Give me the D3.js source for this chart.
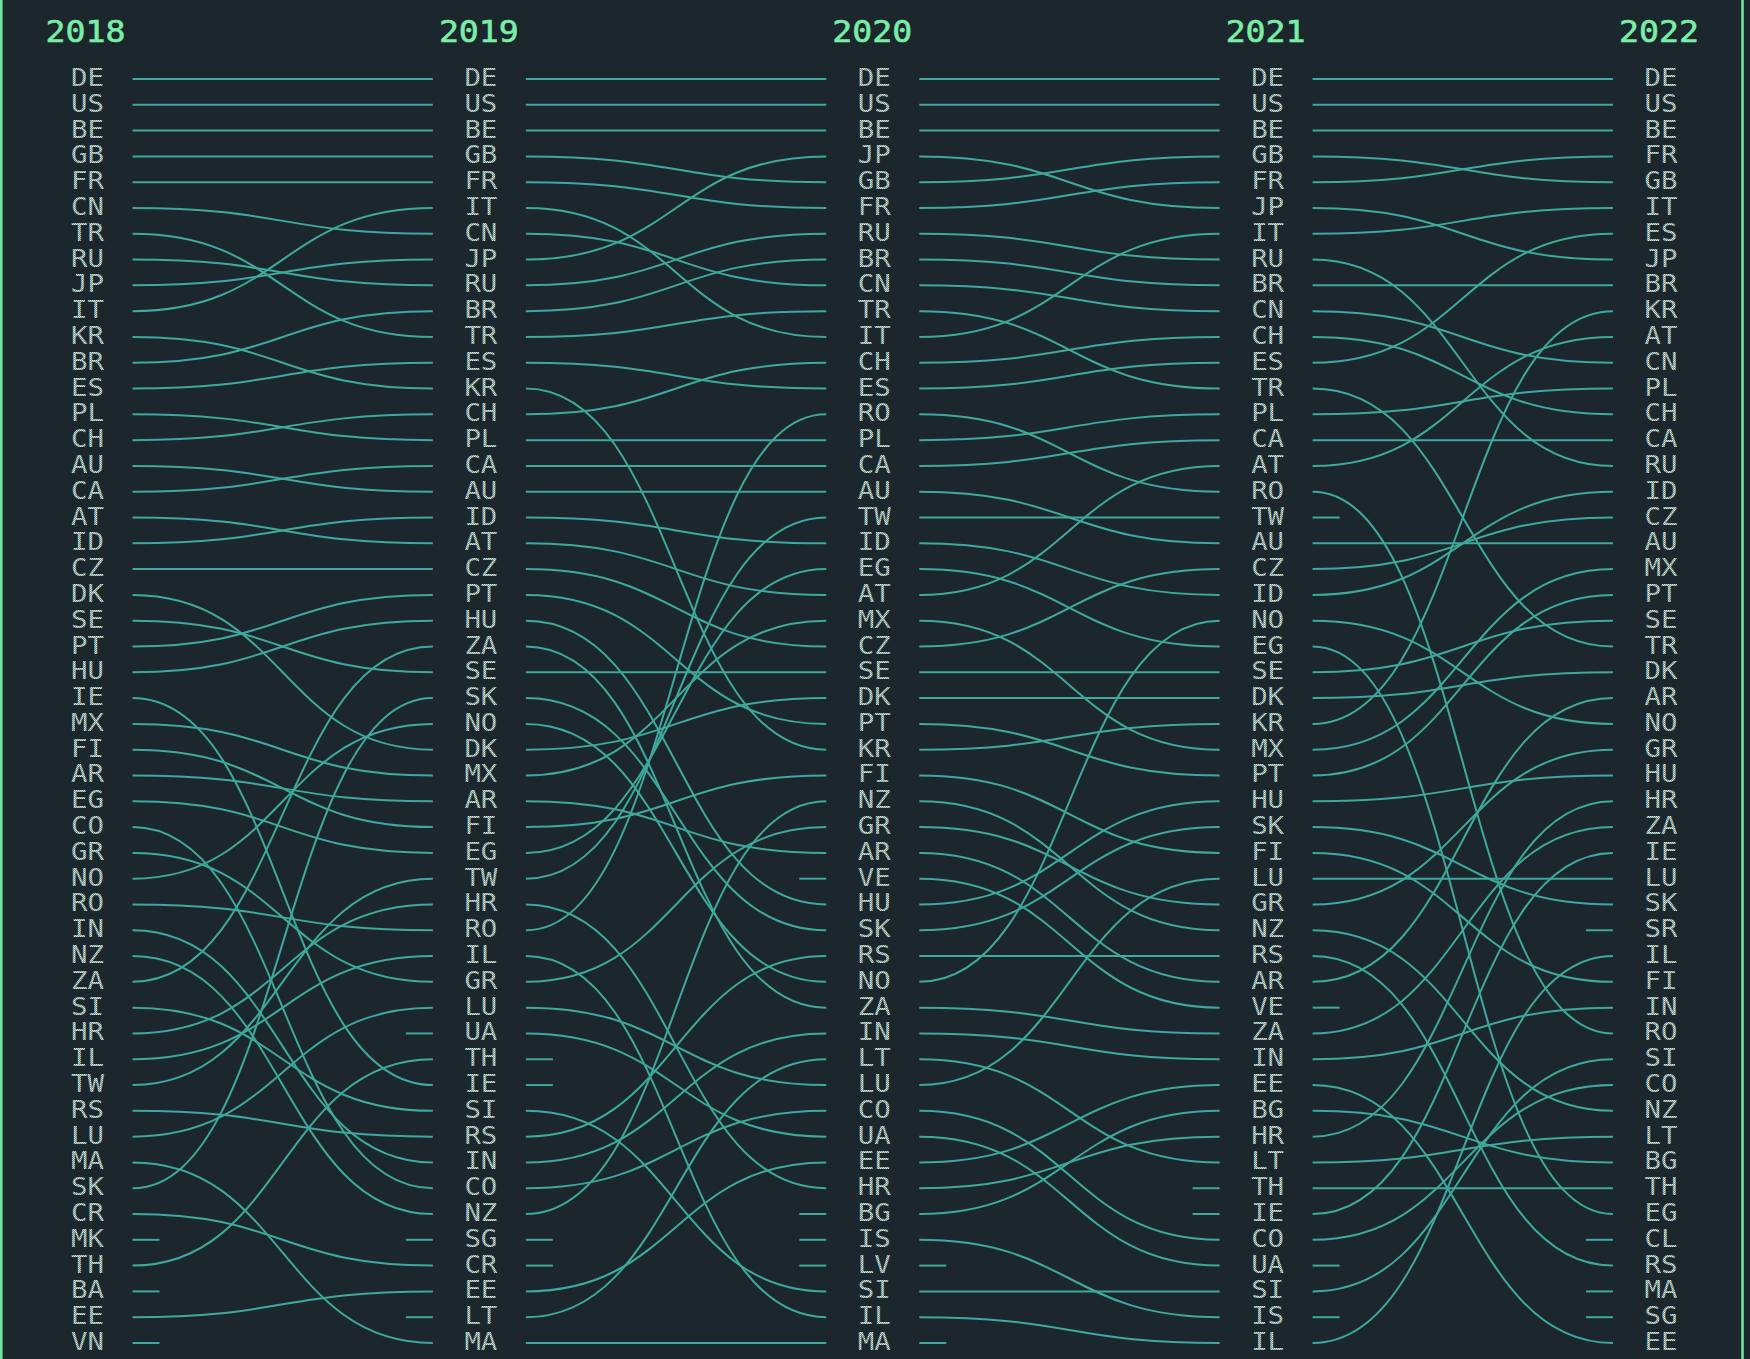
<!DOCTYPE html>
<html><head><meta charset="utf-8">
<script src="https://cdn.jsdelivr.net/npm/d3@7"></script>
<style>html,body{margin:0;padding:0;background:#1c272d;overflow:hidden}</style>
</head><body>
<svg id="chart" width="1750" height="1359"></svg>
<script>
const years = ["2018", "2019", "2020", "2021", "2022"];
const rank2018 = ["DE","US","BE","GB","FR","CN","TR","RU","JP","IT","KR","BR","ES","PL","CH","AU","CA","AT","ID","CZ","DK","SE","PT","HU","IE","MX","FI","AR","EG","CO","GR","NO","RO","IN","NZ","ZA","SI","HR","IL","TW","RS","LU","MA","SK","CR","MK","TH","BA","EE","VN"];
const rank2019 = ["DE","US","BE","GB","FR","IT","CN","JP","RU","BR","TR","ES","KR","CH","PL","CA","AU","ID","AT","CZ","PT","HU","ZA","SE","SK","NO","DK","MX","AR","FI","EG","TW","HR","RO","IL","GR","LU","UA","TH","IE","SI","RS","IN","CO","NZ","SG","CR","EE","LT","MA"];
const rank2020 = ["DE","US","BE","JP","GB","FR","RU","BR","CN","TR","IT","CH","ES","RO","PL","CA","AU","TW","ID","EG","AT","MX","CZ","SE","DK","PT","KR","FI","NZ","GR","AR","VE","HU","SK","RS","NO","ZA","IN","LT","LU","CO","UA","EE","HR","BG","IS","LV","SI","IL","MA"];
const rank2021 = ["DE","US","BE","GB","FR","JP","IT","RU","BR","CN","CH","ES","TR","PL","CA","AT","RO","TW","AU","CZ","ID","NO","EG","SE","DK","KR","MX","PT","HU","SK","FI","LU","GR","NZ","RS","AR","VE","ZA","IN","EE","BG","HR","LT","TH","IE","CO","UA","SI","IS","IL"];
const rank2022 = ["DE","US","BE","FR","GB","IT","ES","JP","BR","KR","AT","CN","PL","CH","CA","RU","ID","CZ","AU","MX","PT","SE","TR","DK","AR","NO","GR","HU","HR","ZA","IE","LU","SK","SR","IL","FI","IN","RO","SI","CO","NZ","LT","BG","TH","EG","CL","RS","MA","SG","EE"];
const rankings = [rank2018, rank2019, rank2020, rank2021, rank2022];

const W = 1750, H = 1359;
const BG = "#1c272d", LINE = "#3ea99c", TITLE = "#7aeea6", FRAME = "#6fe39b";

const svg = d3.select("#chart");
const defs = svg.append("defs");
const pat = defs.append("pattern").attr("id", "dots")
  .attr("patternUnits", "userSpaceOnUse").attr("width", 2).attr("height", 2);
pat.append("rect").attr("width", 2).attr("height", 2).attr("fill", "#7f9991");
pat.append("rect").attr("width", 1).attr("height", 1).attr("fill", "#d6ebe2");
pat.append("rect").attr("x", 1).attr("y", 1).attr("width", 1).attr("height", 1).attr("fill", "#b9d0c8");

svg.append("rect").attr("width", W).attr("height", H).attr("fill", BG);

const x = d3.scalePoint().domain(years).range([87.5, 1661]);
const y = d3.scaleLinear().domain([0, 49]).range([79, 1343]);
const padL = 45, padR = 48, stub = 27;

const link = d3.linkHorizontal().x(d => d[0]).y(d => d[1]);
const gLines = svg.append("g").attr("fill", "none").attr("stroke", LINE).attr("stroke-width", 2);

for (let i = 0; i < years.length - 1; i++) {
  const a = rankings[i], b = rankings[i + 1];
  const x0 = x(years[i]) + padL, x1 = x(years[i + 1]) - padR;
  a.forEach((c, r) => {
    const j = b.indexOf(c);
    if (j >= 0) {
      gLines.append("path").attr("d", link({source: [x0, y(r)], target: [x1, y(j)]}));
    } else {
      gLines.append("line").attr("x1", x0).attr("x2", x0 + stub).attr("y1", y(r)).attr("y2", y(r));
    }
  });
  b.forEach((c, j) => {
    if (a.indexOf(c) < 0) {
      gLines.append("line").attr("x1", x1 - stub).attr("x2", x1).attr("y1", y(j)).attr("y2", y(j));
    }
  });
}

years.forEach((yr, i) => {
  svg.append("text").attr("x", x(yr) - 2).attr("y", 42)
    .attr("text-anchor", "middle")
    .attr("font-family", "DejaVu Sans Mono")
    .attr("font-size", 31).attr("fill", TITLE)
    .attr("stroke", TITLE).attr("stroke-width", 0.6)
    .attr("textLength", 80).attr("lengthAdjust", "spacingAndGlyphs")
    .text(yr);
  svg.append("g").selectAll("text").data(rankings[i]).join("text")
    .attr("x", x(yr)).attr("y", (d, r) => y(r) + 7)
    .attr("text-anchor", "middle")
    .attr("font-family", "DejaVu Sans Mono")
    .attr("font-size", 24).attr("fill", "url(#dots)")
    .attr("textLength", 33).attr("lengthAdjust", "spacingAndGlyphs")
    .text(d => d);
});

svg.append("line").attr("x1", 1.3).attr("x2", 1.3).attr("y1", 0).attr("y2", H)
  .attr("stroke", FRAME).attr("stroke-width", 2.6);
svg.append("line").attr("x1", 1742.5).attr("x2", 1742.5).attr("y1", 0).attr("y2", H)
  .attr("stroke", FRAME).attr("stroke-width", 2.6);
</script>
</body></html>
